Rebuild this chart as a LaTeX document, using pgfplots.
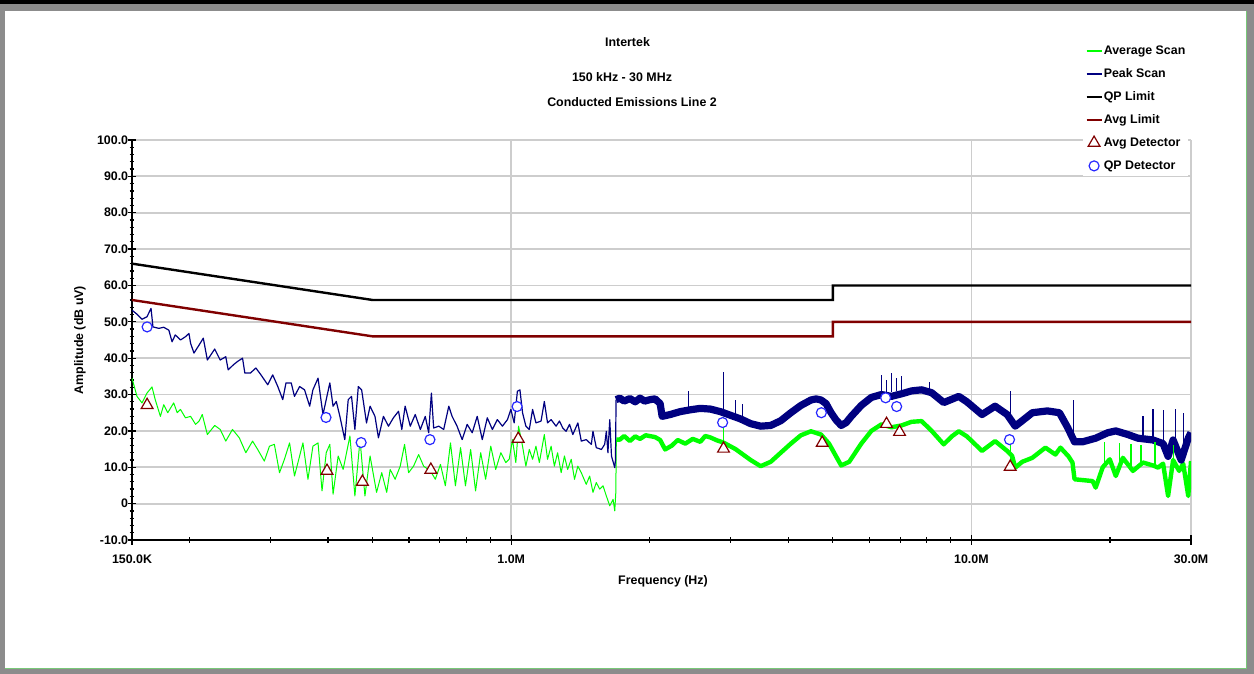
\documentclass[border=0pt]{standalone}
\usepackage{fontspec}
\setmainfont{Liberation Sans}
\usepackage{pgfplots}
\pgfplotsset{compat=1.18}
\definecolor{navyc}{RGB}{0,0,128}
\definecolor{limred}{RGB}{128,0,0}
\definecolor{scang}{RGB}{0,255,0}
\definecolor{qpblue}{RGB}{40,40,255}
\definecolor{gridg}{RGB}{205,205,205}
\definecolor{frameg}{RGB}{140,140,140}
\definecolor{frameline}{RGB}{120,200,120}
\newcommand\cf{\fontsize{6.2bp}{7.4bp}\selectfont\bfseries}
\begin{document}
\begin{tikzpicture}
\useasboundingbox (0,0) rectangle (627bp,337bp);
\fill[white] (0,0) rectangle (627bp,337bp);
\fill[frameg] (0,0) rectangle (2.5bp,337bp);
\fill[frameg] (0,0) rectangle (627bp,2.5bp);
\fill[frameg] (623.5bp,0) rectangle (627bp,337bp);
\fill[frameg] (0,331.5bp) rectangle (627bp,335bp);
\fill[black] (0,335bp) rectangle (627bp,337bp);
\draw[frameline, line width=0.6bp] (623.2bp,2.5bp) -- (623.2bp,331.5bp);
\draw[frameline, line width=0.6bp] (2.5bp,2.8bp) -- (623.5bp,2.8bp);
\begin{axis}[
 at={(66bp,67bp)}, anchor=south west,
 scale only axis, width=529.5bp, height=200bp,
 xmode=log, xmin=0.15, xmax=30, ymin=-10, ymax=100,
 axis x line*=bottom, axis y line*=left,
 axis line style={black, line width=0.9bp, -},
 xtick={0.15,1,10,30}, xticklabels={150.0K,1.0M,10.0M,30.0M},
 minor xtick={0.2,0.3,0.4,0.5,0.6,0.7,0.8,0.9,2,3,4,5,6,7,8,9,20},
 ytick={-10,0,...,100},
 yticklabels={-10.0,0,10.0,20.0,30.0,40.0,50.0,60.0,70.0,80.0,90.0,100.0},
 minor y tick num=4,
 grid=major, major grid style={gridg, line width=0.9bp},
 tick align=center, major tick length=4.5bp, minor tick length=2.5bp,
 every tick/.style={black, line width=0.6bp},
 ticklabel style={font=\cf},
 yticklabel style={anchor=east, inner sep=0pt, xshift=0.5bp},
 xticklabel style={anchor=north, inner sep=0pt, yshift=-5bp},
 legend style={at={(0.898,1.25)}, anchor=north west, draw=none, fill=white,
   font=\cf, inner sep=1bp, row sep=3bp,
   nodes={inner sep=0.5bp, text height=5.5bp, text depth=2bp}},
 legend cell align=left,
 legend image code/.code={\draw[mark repeat=2,mark phase=2,#1] plot coordinates {(0bp,0bp) (3.75bp,0bp) (7.5bp,0bp)};},
]
% Average scan, below 1.69 MHz
\addplot[scang, line width=0.5bp, line join=round, legend image post style={line width=1bp}] coordinates {
(0.1500,34.5)(0.1538,29.5)(0.1577,27.7)(0.1617,30.4)(0.1658,32.1)(0.1685,28.6)(0.1729,24.0)(0.1758,27.2)(0.1794,25.0)(0.1848,27.7)(0.1881,25.0)(0.1912,25.9)(0.1960,23.6)(0.2011,24.0)(0.2062,21.8)(0.2098,22.7)(0.2132,24.5)(0.2187,19.0)(0.2269,21.5)(0.2332,20.4)(0.2398,17.2)(0.2480,20.4)(0.2566,18.1)(0.2651,14.0)(0.2742,17.2)(0.2813,14.9)(0.2908,11.7)(0.2984,15.8)(0.3058,16.3)(0.3138,8.5)(0.3216,12.2)(0.3300,16.7)(0.3382,7.6)(0.3470,13.1)(0.3528,16.7)(0.3618,6.7)(0.3709,15.8)(0.3805,16.7)(0.3882,3.5)(0.3964,14.0)(0.4036,16.3)(0.4102,2.6)(0.4208,13.1)(0.4314,9.4)(0.4463,18.6)(0.4575,2.1)(0.4694,17.6)(0.4811,2.1)(0.4936,13.1)(0.5099,3.1)(0.5233,8.5)(0.5365,3.1)(0.5458,9.4)(0.5595,6.7)(0.5740,10.3)(0.5866,16.3)(0.5985,8.5)(0.6136,10.3)(0.6294,13.5)(0.6453,10.3)(0.6675,9.0)(0.6842,6.7)(0.7020,10.8)(0.7195,4.9)(0.7382,16.7)(0.7566,4.9)(0.7763,15.4)(0.7957,4.9)(0.8164,14.9)(0.8368,3.5)(0.8585,14.0)(0.8800,6.7)(0.9029,15.8)(0.9255,9.4)(0.9495,14.0)(0.9732,11.3)(0.9900,12.2)(1.0065,17.6)(1.0235,11.3)(1.0375,21.3)(1.0585,15.8)(1.0763,10.3)(1.0948,14.9)(1.1131,12.2)(1.1318,15.8)(1.1513,11.3)(1.1803,19.0)(1.1995,12.2)(1.2211,15.8)(1.2412,10.3)(1.2614,14.0)(1.2841,8.5)(1.3053,13.1)(1.3265,9.4)(1.3505,12.2)(1.3727,6.7)(1.3958,10.3)(1.4202,8.5)(1.4557,5.3)(1.4808,7.6)(1.5055,3.1)(1.5308,5.8)(1.5572,4.0)(1.5832,4.9)(1.6098,2.1)(1.6376,-0.6)(1.6649,1.2)(1.6789,-2.0)(1.6880,3.1)(1.6920,17.6)};
\addlegendentry{Average Scan}
% Peak scan, below 1.69 MHz
\addplot[navyc, line width=0.6bp, line join=round, legend image post style={line width=1bp}] coordinates {
(0.1500,53.2)(0.1538,52.1)(0.1577,50.7)(0.1617,51.4)(0.1650,53.7)(0.1666,48.6)(0.1715,48.2)(0.1758,48.5)(0.1804,47.7)(0.1833,44.5)(0.1863,46.4)(0.1912,45.0)(0.1960,45.9)(0.1995,46.8)(0.2011,44.1)(0.2045,41.4)(0.2098,43.6)(0.2143,45.5)(0.2187,39.5)(0.2269,42.5)(0.2332,39.5)(0.2398,40.4)(0.2427,36.8)(0.2492,38.2)(0.2544,39.1)(0.2608,40.0)(0.2638,35.9)(0.2712,35.9)(0.2788,37.3)(0.2860,35.4)(0.2958,32.7)(0.3033,35.4)(0.3111,32.2)(0.3189,28.6)(0.3241,33.2)(0.3327,33.2)(0.3382,29.5)(0.3470,32.2)(0.3557,31.3)(0.3649,26.8)(0.3709,31.3)(0.3805,34.5)(0.3869,27.7)(0.3901,24.5)(0.3964,28.6)(0.4036,33.2)(0.4102,26.8)(0.4169,28.1)(0.4244,24.0)(0.4350,17.6)(0.4425,28.6)(0.4499,29.5)(0.4575,20.4)(0.4654,32.2)(0.4732,31.3)(0.4849,22.2)(0.4936,26.8)(0.5059,24.0)(0.5147,18.1)(0.5277,24.0)(0.5412,21.3)(0.5548,23.6)(0.5691,25.4)(0.5786,20.4)(0.5883,26.8)(0.6036,21.3)(0.6187,24.5)(0.6348,20.4)(0.6507,24.0)(0.6618,19.5)(0.6709,30.4)(0.6785,20.8)(0.6960,21.3)(0.7135,20.4)(0.7319,26.8)(0.7441,24.0)(0.7629,21.3)(0.7826,17.6)(0.8023,21.8)(0.8229,19.5)(0.8437,24.0)(0.8654,17.6)(0.8873,23.6)(0.9101,20.4)(0.9331,23.1)(0.9571,21.3)(0.9813,23.1)(0.9985,25.9)(1.0150,22.2)(1.0315,30.9)(1.0447,31.3)(1.0585,25.0)(1.0763,21.3)(1.0948,20.4)(1.1131,25.9)(1.1318,22.2)(1.1612,22.7)(1.1803,28.1)(1.1995,22.2)(1.2211,23.1)(1.2516,21.3)(1.2732,22.7)(1.2945,20.8)(1.3162,19.9)(1.3390,21.8)(1.3614,19.0)(1.3958,22.2)(1.4202,17.2)(1.4557,17.6)(1.4935,16.3)(1.5055,19.9)(1.5308,15.4)(1.5706,14.9)(1.5964,16.3)(1.6098,19.9)(1.6225,14.0)(1.6376,23.1)(1.6517,13.1)(1.6789,9.9)(1.6850,12.0)(1.6900,28.6)};
\addlegendentry{Peak Scan}
% Average scan, dense band above 1.69 MHz
\addplot[scang, line width=2.2bp, line join=round, forget plot] coordinates {
(1.692,17.6)(1.722,17.6)(1.760,18.6)(1.811,17.2)(1.860,18.5)(1.905,17.8)(1.960,18.8)(2.054,18.3)(2.107,17.5)(2.160,14.9)(2.237,16.0)(2.300,17.5)(2.389,16.5)(2.480,17.8)(2.576,17.0)(2.640,18.6)(2.709,18.2)(2.800,17.4)(2.891,16.8)(3.072,15.0)(3.313,12.0)(3.484,10.3)(3.664,11.5)(3.853,14.0)(4.052,16.5)(4.261,18.8)(4.481,19.9)(4.712,19.0)(4.905,16.5)(5.081,13.0)(5.212,10.5)(5.426,11.5)(5.763,16.5)(6.061,20.0)(6.374,21.8)(6.703,21.0)(7.048,21.5)(7.412,22.5)(7.795,22.7)(8.197,20.0)(8.707,16.3)(9.065,18.5)(9.388,19.9)(9.776,18.5)(10.543,14.5)(11.256,17.2)(11.956,14.5)(12.26,13.1)(12.449,9.9)(12.895,11.5)(13.561,12.6)(14.478,15.4)(15.224,13.5)(15.611,15.4)(16.254,13.0)(16.58,11.3)(16.751,6.7)(18.34,6.2)(18.62,4.4)(19.289,10.0)(19.98,12.2)(20.59,7.6)(21.331,12.6)(22.43,9.0)(23.59,11.3)(24.81,10.5)(25.44,9.9)(26.09,11.0)(26.75,2.1)(27.43,12.0)(28.27,9.0)(28.85,11.0)(29.59,2.1)(30,11.7)};
% Peak scan, dense band above 1.69 MHz
\addplot[navyc, line width=3.6bp, line join=round, forget plot] coordinates {
(1.690,28.6)(1.722,29.0)(1.760,28.2)(1.811,28.9)(1.860,28.0)(1.905,29.0)(1.950,28.2)(2.003,28.6)(2.054,28.8)(2.107,27.5)(2.128,24.0)(2.215,24.5)(2.329,25.3)(2.449,25.8)(2.576,26.2)(2.709,26.0)(2.848,25.3)(2.995,24.3)(3.150,23.3)(3.313,22.0)(3.484,21.3)(3.664,21.5)(3.853,22.8)(4.052,25.0)(4.261,27.0)(4.481,28.5)(4.596,28.8)(4.712,28.5)(4.832,27.5)(4.955,25.0)(5.081,23.0)(5.212,21.5)(5.345,22.3)(5.481,24.0)(5.763,27.0)(6.061,29.2)(6.374,30.0)(6.703,29.5)(7.048,30.2)(7.412,31.0)(7.795,31.3)(8.197,30.5)(8.707,27.8)(9.065,28.7)(9.388,29.5)(9.776,28.0)(10.543,24.5)(11.256,26.8)(11.956,24.5)(12.449,21.3)(12.895,22.8)(13.561,25.0)(14.625,25.5)(15.532,25.0)(16.172,21.0)(16.751,17.0)(17.441,17.0)(18.62,18.0)(19.78,19.5)(20.59,20.0)(21.875,19.0)(23.0,18.0)(24.81,17.5)(26.09,16.5)(26.75,13.0)(27.43,17.5)(28.56,12.0)(29.59,18.0)(30,19.5)};
% Spikes
\addplot[navyc, line width=0.6bp, unbounded coords=jump, forget plot] coordinates {
(2.424,25.6)(2.424,31.0)(2.425,nan)(2.891,25)(2.891,36.3)(2.892,nan)(3.072,24)(3.072,28.5)(3.073,nan)(3.182,23)(3.182,27.5)(3.183,nan)(6.374,30.5)(6.374,35.5)(6.375,nan)(6.537,30.5)(6.537,34)(6.538,nan)(6.703,30.7)(6.703,36)(6.704,nan)(6.874,31)(6.874,34.5)(6.875,nan)(7.048,31)(7.048,35)(7.049,nan)(8.115,30.8)(8.115,33.5)(8.116,nan)(12.138,23)(12.138,31)(12.139,nan)(16.66,19)(16.66,28.5)(16.67,nan)(23.59,18)(23.59,24)(23.6,nan)(24.81,17.5)(24.81,26)(24.82,nan)(26.09,16.5)(26.09,25.8)(26.1,nan)(27.71,17)(27.71,26)(27.72,nan)(28.85,15)(28.85,25)};
\addplot[scang, line width=0.6bp, unbounded coords=jump, forget plot] coordinates {
(2.891,16.8)(2.891,23.8)(2.892,nan)(12.138,12)(12.138,16)(12.139,nan)(19.48,10)(19.48,17)(19.49,nan)(21.01,10)(21.01,16.8)(21.02,nan)(22.21,9.5)(22.21,16.5)(22.22,nan)(23.35,10.5)(23.35,16.2)(23.36,nan)(25.06,10)(25.06,17)(25.07,nan)(27.43,11)(27.43,16)};
% Limits
\addplot[black, line width=1.2bp] coordinates {(0.15,66)(0.5,56)(5,56)(5,60)(30,60)};
\addlegendentry{QP Limit}
\addplot[limred, line width=1.2bp] coordinates {(0.15,56)(0.5,46)(5,46)(5,50)(30,50)};
\addlegendentry{Avg Limit}
% Detectors
\addplot[only marks, mark=triangle*, mark size=3.4bp, mark options={draw=limred, fill=white, line width=0.6bp}] coordinates {
(0.1618,27.1)(0.398,9.0)(0.475,6.0)(0.669,9.3)(1.036,17.8)(2.893,15.1)(4.74,16.7)(6.54,21.9)(6.98,19.7)(12.14,10.1)};
\addlegendentry{Avg Detector}
\addplot[only marks, mark=*, mark size=2.5bp, mark options={draw=qpblue, fill=white, line width=0.6bp}] coordinates {
(0.1618,48.6)(0.396,23.7)(0.472,16.8)(0.666,17.6)(1.03,26.7)(2.88,22.3)(4.72,25.0)(6.51,29.1)(6.88,26.7)(12.1,17.6)};
\addlegendentry{QP Detector}
\end{axis}
\node[font=\cf] at (313.75bp,315.75bp) {Intertek};
\node[font=\cf] at (311bp,298.25bp) {150 kHz - 30 MHz};
\node[font=\cf] at (316bp,286.15bp) {Conducted Emissions Line 2};
\node[font=\cf, rotate=90] at (40bp,167bp) {Amplitude (dB uV)};
\node[font=\cf] at (331.5bp,46.5bp) {Frequency (Hz)};
\end{tikzpicture}
\end{document}
